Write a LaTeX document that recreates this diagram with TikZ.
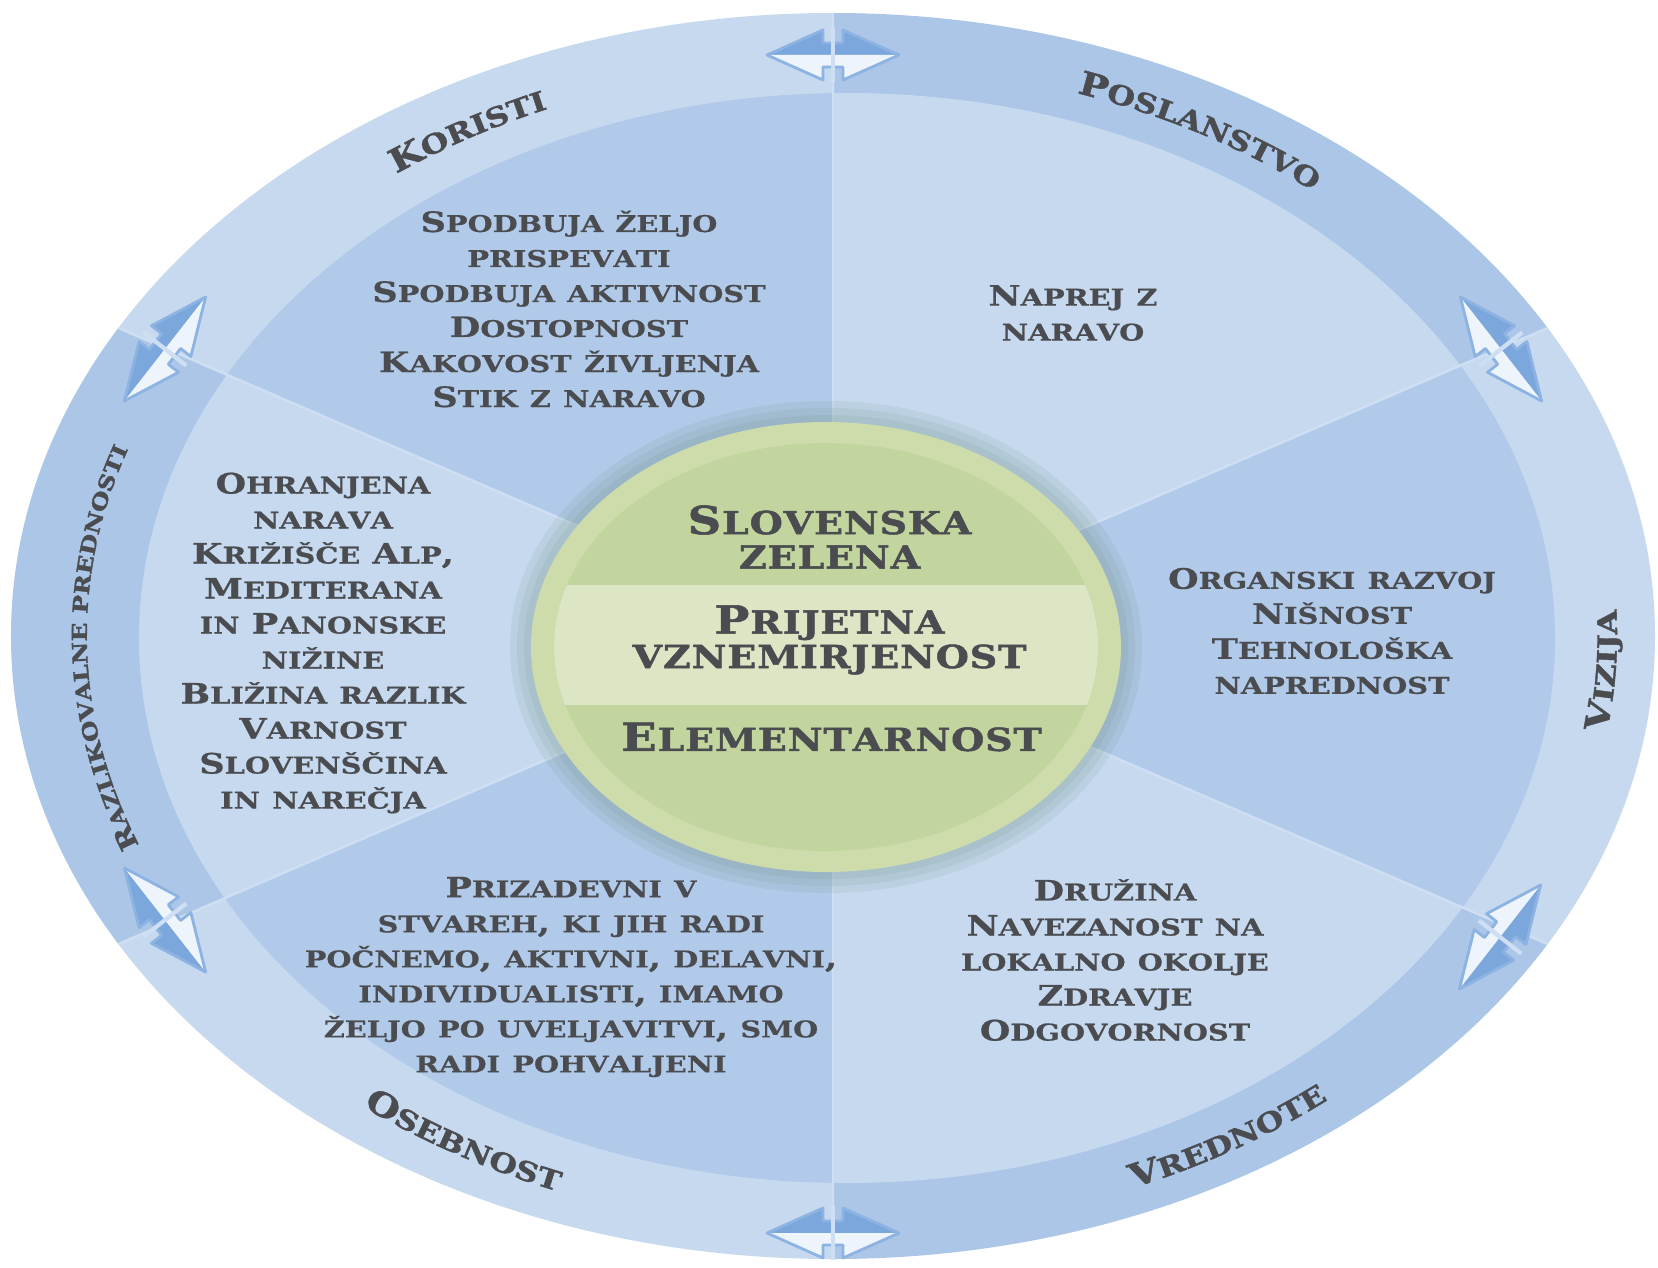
\documentclass[tikz,border=0pt]{standalone}
\usepackage{fontspec}
\usetikzlibrary{decorations.text}

\newfontfamily\slab{DejaVu Serif}[FakeStretch=1.25,BoldFeatures={FakeBold=0.6}]
\newfontfamily\slabheavy{DejaVu Serif}[FakeStretch=1.2,BoldFeatures={FakeBold=1.5}]

\definecolor{textgray}{HTML}{4A4C50}
\definecolor{ringlight}{HTML}{C7D9EF}
\definecolor{ringdark}{HTML}{ABC6E7}
\definecolor{seclight}{HTML}{C6D9EF}
\definecolor{secdark}{HTML}{B1CAE9}
\definecolor{divline}{HTML}{CFDFF3}
\definecolor{arrowdark}{HTML}{7BA7DD}
\definecolor{arrowlight}{HTML}{EEF4FB}
\definecolor{arrowedge}{HTML}{8DB3E2}
\definecolor{greenrim}{HTML}{CEDCAB}
\definecolor{greenin}{HTML}{C3D59E}
\definecolor{greenband}{HTML}{DCE6C5}
\definecolor{greenshade}{HTML}{6F8F80}

\makeatletter
\newcommand\fscsmall{\fontsize{\fpeval{0.82*\f@size}}{\f@baselineskip}\selectfont}
\makeatother
\def\fsctrack{0pt}
\ExplSyntaxOn
\NewDocumentCommand\fsc{m}
 {
  \str_map_inline:nn {#1}
   {
    \str_if_eq:eeTF {##1} {\text_uppercase:n {##1}}
     {##1}
     {{\fscsmall\text_uppercase:n {##1}}}
    \kern\fsctrack\relax
   }
 }
\ExplSyntaxOff

\newcommand\labcap{\slabheavy\bfseries\fontsize{9.2}{10}\selectfont\color{textgray}}
\newcommand\labsc{\slabheavy\bfseries\fontsize{7.6}{10}\selectfont\color{textgray}}
\newcommand\labcapb{\slabheavy\bfseries\fontsize{7.1}{10}\selectfont\color{textgray}}
\newcommand\labscb{\slabheavy\bfseries\fontsize{5.85}{10}\selectfont\color{textgray}}

\tikzset{dblarrow/.pic={
  \fill[arrowdark] (-0.66,0) -- (-0.1,0.25) -- (-0.1,0.12) -- (0.1,0.12) -- (0.1,0.25) -- (0.66,0) -- cycle;
  \fill[arrowlight] (-0.66,0) -- (-0.1,-0.25) -- (-0.1,-0.12) -- (0.1,-0.12) -- (0.1,-0.25) -- (0.66,0) -- cycle;
  \draw[arrowedge,line width=0.8pt,line join=round] (-0.66,0) -- (-0.1,0.25) -- (-0.1,0.12) -- (0.1,0.12) -- (0.1,0.25) -- (0.66,0)
    -- (0.1,-0.25) -- (0.1,-0.12) -- (-0.1,-0.12) -- (-0.1,-0.25) -- cycle;
  \draw[divline,line width=1.2pt] (0,0.27) -- (0,-0.27);
}}

\begin{document}
\begin{tikzpicture}[
    secbox/.style={align=center,inner sep=0pt,text=textgray,
      font=\slab\bfseries\fontsize{8}{9.96}\selectfont\def\fsctrack{0pt}},
    corebox/.style={align=center,inner sep=0pt,text=textgray,
      font=\slabheavy\bfseries\fontsize{11}{9.8}\selectfont\def\fsctrack{0.25pt}},
    ringlabel/.style={decorate,
      decoration={text along path,text align=center,text={#1}}}
  ]
  \useasboundingbox (-8.33,-6.31) rectangle (8.25,6.36);
  \fill[white] (-8.33,-6.31) rectangle (8.25,6.36);

  \coordinate (c) at (0,0);
  \coordinate (ne) at (9,3.88);
  \coordinate (se) at (9,-3.88);
  \coordinate (nw) at (-9,3.88);
  \coordinate (sw) at (-9,-3.88);
  \coordinate (n) at (0,7);
  \coordinate (s) at (0,-7);

  % outer ring
  \begin{scope}
    \clip (0,0) ellipse (8.22 and 6.23);
    \fill[ringlight] (c) -- (n) -- (-9,7) -- (nw) -- cycle;
    \fill[ringdark] (c) -- (n) -- (9,7) -- (ne) -- cycle;
    \fill[ringlight] (c) -- (ne) -- (se) -- cycle;
    \fill[ringdark] (c) -- (se) -- (9,-7) -- (s) -- cycle;
    \fill[ringlight] (c) -- (s) -- (-9,-7) -- (sw) -- cycle;
    \fill[ringdark] (c) -- (sw) -- (nw) -- cycle;
  \end{scope}

  % inner sectors
  \begin{scope}
    \clip (0.14,-0.02) ellipse (7.08 and 5.45);
    \fill[secdark] (c) -- (n) -- (-9,7) -- (nw) -- cycle;
    \fill[seclight] (c) -- (n) -- (9,7) -- (ne) -- cycle;
    \fill[secdark] (c) -- (ne) -- (se) -- cycle;
    \fill[seclight] (c) -- (se) -- (9,-7) -- (s) -- cycle;
    \fill[secdark] (c) -- (s) -- (-9,-7) -- (sw) -- cycle;
    \fill[seclight] (c) -- (sw) -- (nw) -- cycle;
  \end{scope}

  \begin{scope}
    \clip (0,0) ellipse (8.22 and 6.23);
    \draw[divline,line width=0.7pt] (c) -- (n) (c) -- (s) (c) -- (ne) (c) -- (se) (c) -- (nw) (c) -- (sw);
  \end{scope}

  \pic at (0,5.81) {dblarrow};
  \pic at (0,-5.97) {dblarrow};
  \pic[rotate=52] at (-6.68,2.87) {dblarrow};
  \pic[rotate=128] at (-6.68,-2.84) {dblarrow};
  \pic[rotate=-52] at (6.68,2.87) {dblarrow};
  \pic[rotate=232] at (6.67,-3.01) {dblarrow};

  \begin{scope}[xshift=0.07cm]
    \path[ringlabel={|\labcap|K|\labsc|ORISTI}] (162:7.53 and 5.72) arc[start angle=162,end angle=82,x radius=7.53,y radius=5.72];
    \path[ringlabel={|\labcap|P|\labsc|OSLANSTVO}] (99:7.53 and 5.72) arc[start angle=99,end angle=19,x radius=7.53,y radius=5.72];
    \path[ringlabel={|\labcapb|R|\labscb|AZLIKOVALNE PREDNOSTI}] (241:7.53 and 5.72) arc[start angle=241,end angle=121,x radius=7.53,y radius=5.72];
    \path[ringlabel={|\labcap|V|\labsc|IZIJA}] (-43:7.77 and 5.96) arc[start angle=-43,end angle=37,x radius=7.77,y radius=5.96];
    \path[ringlabel={|\labcap|V|\labsc|REDNOTE}] (-97:7.77 and 5.96) arc[start angle=-97,end angle=-17,x radius=7.77,y radius=5.96];
    \path[ringlabel={|\labcap|O|\labsc|SEBNOST}] (198:7.77 and 5.96) arc[start angle=198,end angle=278,x radius=7.77,y radius=5.96];
  \end{scope}

  % green core
  \foreach \w in {12,8,4}
    \draw[greenshade,opacity=0.12,line width=\w*1pt] (-0.07,-0.11) ellipse (2.95 and 2.25);
  \fill[greenrim] (-0.07,-0.11) ellipse (2.95 and 2.25);
  \fill[greenin] (-0.07,-0.11) ellipse (2.72 and 2.04);
  \begin{scope}
    \clip (-0.07,-0.11) ellipse (2.72 and 2.04);
    \fill[greenband] (-3,-0.69) rectangle (3,0.51);
  \end{scope}

  \node[secbox] (koristi) at (-2.64,3.27) {\fsc{Spodbuja željo}\\\fsc{prispevati}\\\fsc{Spodbuja aktivnost}\\\fsc{Dostopnost}\\\fsc{Kakovost življenja}\\\fsc{Stik z naravo}};
  \node[secbox] (poslanstvo) at (2.40,3.23) {\fsc{Naprej z}\\\fsc{naravo}};
  \node[secbox] (vizija) at (4.99,0.05) {\fsc{Organski razvoj}\\\fsc{Nišnost}\\\fsc{Tehnološka}\\\fsc{naprednost}};
  \node[secbox] (vrednote) at (2.82,-3.24) {\fsc{Družina}\\\fsc{Navezanost na}\\\fsc{lokalno okolje}\\\fsc{Zdravje}\\\fsc{Odgovornost}};
  \node[secbox] (osebnost) at (-2.62,-3.41) {\fsc{Prizadevni v}\\\fsc{stvareh, ki jih radi}\\\fsc{počnemo, aktivni, delavni,}\\\fsc{individualisti, imamo}\\\fsc{željo po uveljavitvi, smo}\\\fsc{radi pohvaljeni}};
  \node[secbox] (prednosti) at (-5.10,-0.07) {\fsc{Ohranjena}\\\fsc{narava}\\\fsc{Križišče Alp,}\\\fsc{Mediterana}\\\fsc{in Panonske}\\\fsc{nižine}\\\fsc{Bližina razlik}\\\fsc{Varnost}\\\fsc{Slovenščina}\\\fsc{in narečja}};

  \node[corebox] (zelena) at (-0.03,0.99) {\fsc{Slovenska}\\\fsc{zelena}};
  \node[corebox] (prijetna) at (-0.03,-0.04) {\fsc{Prijetna}\\\fsc{vznemirjenost}};
  \node[corebox] (elementarnost) at (-0.01,-1.01) {\fsc{Elementarnost}};
\end{tikzpicture}
\end{document}
